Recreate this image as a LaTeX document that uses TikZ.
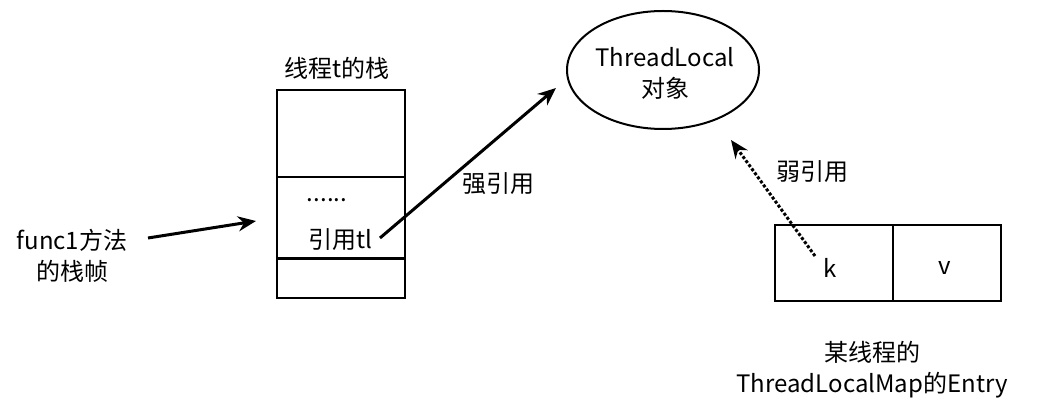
\documentclass[tikz,border=0pt]{standalone}
\usepackage{fontspec}
\setmainfont{Noto Sans CJK SC}
\usetikzlibrary{arrows.meta,shapes.geometric}
\begin{document}
\begin{tikzpicture}[x=1pt,y=-1pt,
  lbl/.style={font=\fontsize{24}{31}\selectfont,inner sep=0pt,align=center},
  arr/.style={line width=3pt,-{Stealth[length=18pt,width=15pt]}},
  box/.style={draw,line width=2pt}]
\useasboundingbox (0,0) rectangle (1057,419);
\node[box,minimum width=128,minimum height=208,inner sep=0pt] (stack) at (341,194) {};
\draw[line width=2pt] (277,177) -- (405,177);
\draw[line width=3pt] (277,259) -- (405,259);
\node[lbl] (stt) at (337,68) {线程t的栈};
\node[lbl] (dots) at (327,200) {......};
\node[lbl] (ref) at (340,240) {引用tl};
\node[draw,ellipse,line width=2pt,minimum width=192,minimum height=118,inner sep=0pt] (tl) at (663,70) {};
\node[lbl] (tlt) at (665,73) {ThreadLocal\\对象};
\node[lbl] (f1) at (72,256) {func1方法\\的栈帧};
\coordinate (fs) at (148,238);
\coordinate (fe) at (256,221);
\draw[arr] (fs) -- (fe);
\coordinate (rs) at (380,238);
\coordinate (re) at (556,88);
\draw[arr] (rs) -- (re);
\node[lbl] (strong) at (498,184) {强引用};
\node[box,minimum width=226,minimum height=76,inner sep=0pt] (entry) at (888,263) {};
\draw[line width=2pt] (893,225) -- (893,301);
\node[lbl] (k) at (830,268) {k};
\node[lbl] (v) at (945,268) {v};
\coordinate (ks) at (815,256);
\coordinate (ke) at (731,140);
\draw[line width=3pt,dotted,-{Stealth[length=18pt,width=15pt]}] (ks) -- (ke);
\node[lbl] (weak) at (812,172) {弱引用};
\node[lbl] (cap) at (872,370) {某线程的\\ThreadLocalMap的Entry};
\end{tikzpicture}
\end{document}
